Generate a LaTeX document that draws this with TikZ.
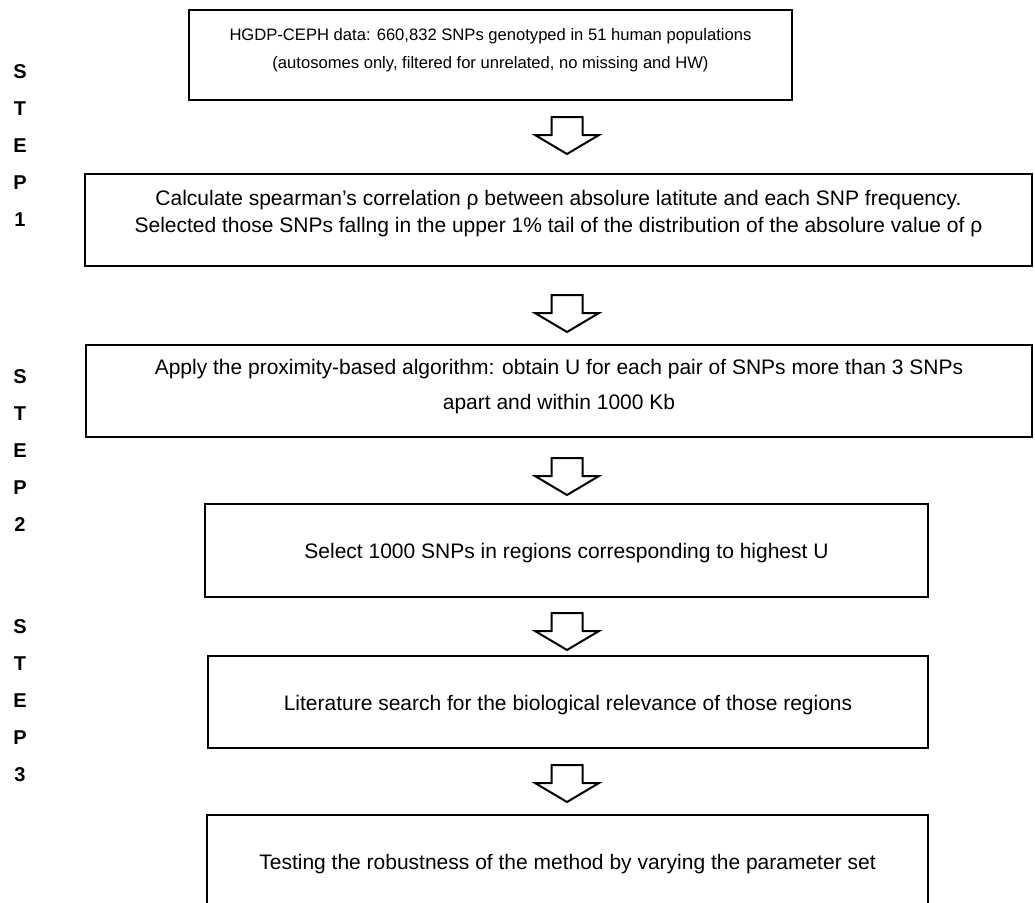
\documentclass[tikz,border=0pt]{standalone}
\usepackage{fontspec}
\setmainfont{Liberation Sans}

\begin{document}
\begin{tikzpicture}[
  x=1pt,y=-1pt,
  box/.style={draw,line width=2.4pt,inner sep=0pt},
  boxtext/.style={align=center,inner sep=0pt,
                  font=\fontsize{21}{27}\selectfont},
  toptext/.style={boxtext,font=\fontsize{16.6}{28}\selectfont},
  steplbl/.style={align=center,inner sep=0pt,
                  font=\fontsize{20}{37}\selectfont\bfseries},
  hollowdown/.pic={\draw[line width=2pt,miter limit=10,fill=white]
      (-15.5,0) -- (-15.5,18) -- (-32,18) -- (0,37)
      -- (32,18) -- (15.5,18) -- (15.5,0) -- cycle;},
]
\clip (0,0) rectangle (1035,902);

% ---- step labels down the left margin ----
\node[steplbl] (step1) at (20,146) {S\\T\\E\\P\\1};
\node[steplbl] (step2) at (20,451) {S\\T\\E\\P\\2};
\node[steplbl] (step3) at (20,701) {S\\T\\E\\P\\3};

% ---- the six stages: frame first, then its text ----
\node[box,minimum width=603,minimum height=90] (data) at (490.5,55) {};
\node[toptext] at ([yshift=5pt]data.center)
     {HGDP-CEPH data: 660,832 SNPs genotyped in 51 human populations\\
      (autosomes only, filtered for unrelated, no missing and HW)};

\node[box,minimum width=947,minimum height=92] (corr) at (558.5,220) {};
\node[boxtext] at ([yshift=6pt]corr.center)
     {Calculate spearman’s correlation ρ between absolure latitute and each SNP frequency.\\
      Selected those SNPs fallng in the upper 1\% tail of the distribution of the absolure value of ρ};

\node[box,minimum width=946,minimum height=92] (prox) at (559,391) {};
\node[boxtext] at ([yshift=4pt]prox.center)
     {Apply the proximity-based algorithm: obtain U for each pair of SNPs more than 3 SNPs\\[8pt]
      apart and within 1000 Kb};

\node[box,minimum width=723,minimum height=93] (select) at (566.5,550.5) {};
\node[boxtext] at ([yshift=-3pt]select.center)
     {Select 1000 SNPs in regions corresponding to highest U};

\node[box,minimum width=720,minimum height=92] (lit) at (568,702) {};
\node[boxtext] at ([yshift=-3pt]lit.center)
     {Literature search for the biological relevance of those regions};

\node[box,minimum width=721,minimum height=92] (robust) at (567.5,861) {};
\node[boxtext] at ([yshift=-3pt]robust.center)
     {Testing the robustness of the method by varying the parameter set};

% ---- hollow arrows between the stages ----
\pic at (567,117) {hollowdown};
\pic at (567,295) {hollowdown};
\pic at (567,458) {hollowdown};
\pic at (567,613) {hollowdown};
\pic at (567,765) {hollowdown};

\end{tikzpicture}
\end{document}
